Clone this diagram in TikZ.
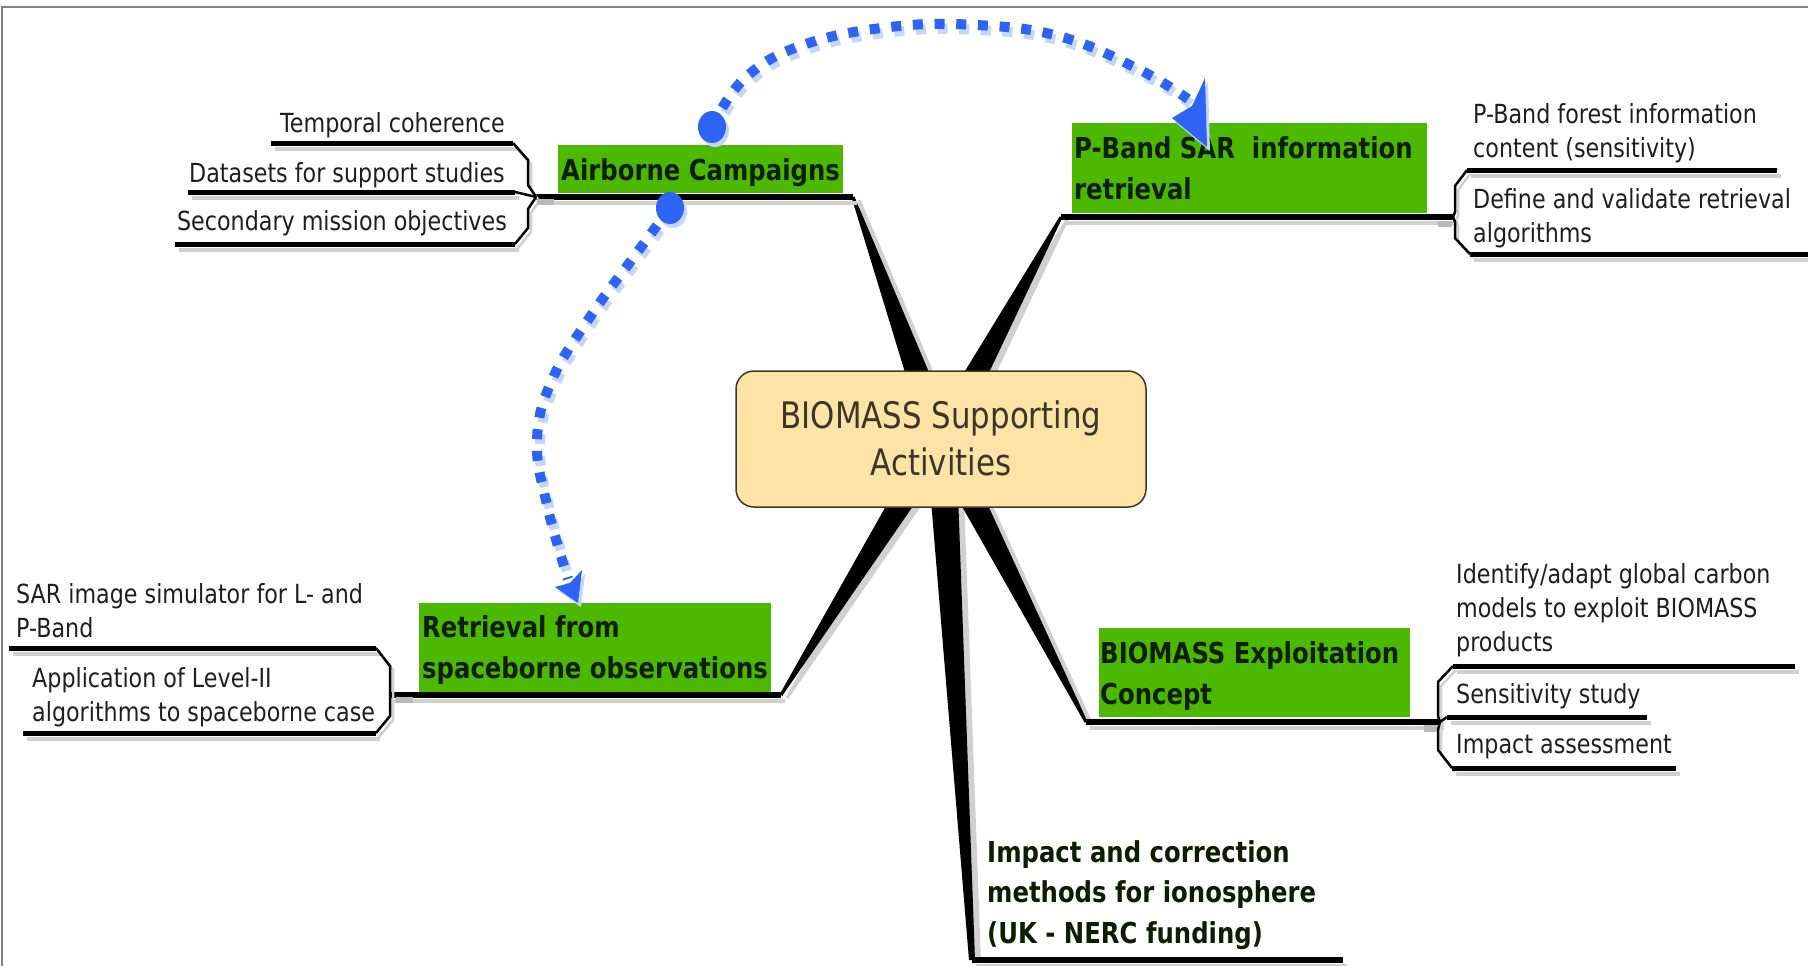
\documentclass[tikz,border=0pt]{standalone}
\usepackage{fontspec}
\setmainfont{DejaVu Sans}[FakeStretch=0.845]
\usetikzlibrary{calc}
\definecolor{gfill}{RGB}{77,184,0}
\definecolor{bluearr}{RGB}{45,100,245}
\definecolor{blueshadow}{RGB}{198,213,250}
\definecolor{cfill}{RGB}{253,227,165}
\definecolor{cdraw}{RGB}{60,55,40}
\definecolor{ctext}{RGB}{58,54,40}
\definecolor{shadowgray}{RGB}{208,208,208}
\definecolor{framegray}{RGB}{128,128,128}
\definecolor{leaftext}{RGB}{30,30,30}
\definecolor{topictext}{RGB}{12,30,0}
\newcommand\mlines[1]{\begin{tabular}[t]{@{}l@{}}#1\end{tabular}}
\newcommand\taper[5]{\fill[#1] ($(#2)!#4!90:(#3)$) -- ($(#3)!#5!-90:(#2)$) -- ($(#3)!#5!90:(#2)$) -- ($(#2)!#4!-90:(#3)$) -- cycle;}
\tikzset{
  leaf/.style={inner sep=0pt, font=\fontsize{26.3}{34}\selectfont, text=leaftext},
  topic/.style={inner sep=0pt, font=\fontsize{28.8}{41}\selectfont\bfseries, text=topictext},
  gbox/.style={fill=gfill, draw=none, inner sep=0pt, anchor=north west},
  uline/.style={line width=5pt, black},
  ushadow/.style={line width=4pt, shadowgray, transform canvas={xshift=4pt,yshift=-6pt}},
  bracket/.style={line width=2.5pt, black, line join=miter},
  bshadow/.style={line width=2.5pt, shadowgray, transform canvas={xshift=3pt,yshift=-4pt}},
  bluedash/.style={line width=10pt, bluearr, dash pattern=on 10pt off 11.7pt},
  blueshad/.style={line width=10pt, blueshadow, dash pattern=on 10pt off 11.7pt, transform canvas={xshift=3pt,yshift=-5pt}},
  tab/.style={fill=gray!55},
}
\begin{document}
\begin{tikzpicture}[x=1pt,y=-1pt]
\useasboundingbox (0,0) rectangle (1808,966);
\fill[white] (0,0) rectangle (1808,966);
\draw[framegray, line width=2pt] (1.5,966) -- (1.5,7) -- (1808,7);

% connection points
\coordinate (C) at (941,439);
\coordinate (EA) at (853,197);  \coordinate (LA) at (536,197);
\coordinate (EP) at (1061,217); \coordinate (RP) at (1453,217);
\coordinate (ER) at (781,695);  \coordinate (LR) at (390,695);
\coordinate (EX) at (1086,722); \coordinate (RX) at (1440,722);
\coordinate (EI) at (972,960);  \coordinate (RI) at (1343,960);

% main connector shadows
\begin{scope}[transform canvas={xshift=6pt,yshift=-3pt}]
\taper{shadowgray}{C}{EA}{15pt}{1.5pt}
\taper{shadowgray}{C}{EP}{15pt}{1.5pt}
\taper{shadowgray}{C}{ER}{15pt}{1.5pt}
\taper{shadowgray}{C}{EX}{15pt}{1.5pt}
\taper{shadowgray}{C}{EI}{15pt}{3pt}
\end{scope}
% main connectors
\taper{black}{C}{EA}{15pt}{1.5pt}
\taper{black}{C}{EP}{15pt}{1.5pt}
\taper{black}{C}{ER}{15pt}{1.5pt}
\taper{black}{C}{EX}{15pt}{1.5pt}
\taper{black}{C}{EI}{15pt}{3pt}

% main underlines
\draw[ushadow] (LA) -- (EA);
\draw[ushadow] (EP) -- (RP);
\draw[ushadow] (LR) -- (ER);
\draw[ushadow] (EX) -- (RX);
\draw[ushadow] (EI) -- (RI);
\draw[uline, line width=6pt] (LA) -- (EA);
\draw[uline, line width=6pt] (EP) -- (RP);
\draw[uline, line width=6pt] (LR) -- (ER);
\draw[uline, line width=6pt] (EX) -- (RX);
\draw[uline, line width=6pt] (EI) -- (RI);

% leaf underline end points
\coordinate (aT1) at (271,143); \coordinate (aT2) at (513,143);
\coordinate (aD1) at (188,192); \coordinate (aD2) at (515,192);
\coordinate (aS1) at (175,244); \coordinate (aS2) at (515,244);
\coordinate (pF1) at (1467,170); \coordinate (pF2) at (1777,170);
\coordinate (pD1) at (1470,254); \coordinate (pD2) at (1808,254);
\coordinate (rS1) at (9,648);   \coordinate (rS2) at (376,648);
\coordinate (rA1) at (23,733);  \coordinate (rA2) at (376,733);
\coordinate (xI1) at (1453,666); \coordinate (xI2) at (1795,666);
\coordinate (xS1) at (1447,717); \coordinate (xS2) at (1647,717);
\coordinate (xM1) at (1452,768); \coordinate (xM2) at (1676,768);

% leaf shadows
\foreach \a/\b in {aT1/aT2,aD1/aD2,aS1/aS2,pF1/pF2,pD1/pD2,rS1/rS2,rA1/rA2,xI1/xI2,xS1/xS2,xM1/xM2}
  \draw[ushadow] (\a) -- (\b);
\draw[bshadow] (aT2) -- (528,160) -- (528,185) -- (LA);
\draw[bshadow] (aS2) -- (528,228) -- (528,209) -- (LA);
\draw[bshadow] (pF1) -- (1455,186) -- (1455,212) -- (RP);
\draw[bshadow] (RP) -- (1455,222) -- (1455,238) -- (pD1);
\draw[bshadow] (rS2) -- (390,666) -- (390,690) -- (LR);
\draw[bshadow] (LR) -- (390,700) -- (390,716) -- (rA2);
\draw[bshadow] (xI1) -- (1438,682) -- (1438,716) -- (RX);
\draw[bshadow] (RX) -- (1438,730) -- (1438,750) -- (xM1);

% leaf underlines
\foreach \a/\b in {aT1/aT2,aD1/aD2,aS1/aS2,pF1/pF2,pD1/pD2,rS1/rS2,rA1/rA2,xI1/xI2,xS1/xS2,xM1/xM2}
  \draw[uline] (\a) -- (\b);
% brackets
\draw[bracket] (aT2) -- (528,160) -- (528,185) -- (LA);
\draw[bracket] (aD2) -- (LA);
\draw[bracket] (aS2) -- (528,228) -- (528,209) -- (LA);
\draw[bracket] (pF1) -- (1455,186) -- (1455,212) -- (RP);
\draw[bracket] (RP) -- (1455,222) -- (1455,238) -- (pD1);
\draw[bracket] (rS2) -- (390,666) -- (390,690) -- (LR);
\draw[bracket] (LR) -- (390,700) -- (390,716) -- (rA2);
\draw[bracket] (xI1) -- (1438,682) -- (1438,716) -- (RX);
\draw[bracket] (RX) -- (xS1);
\draw[bracket] (RX) -- (1438,730) -- (1438,750) -- (xM1);
% junction tabs
\fill[tab] (537,199) rectangle (554,205);
\fill[tab] (1438,221) rectangle (1452,227);
\fill[tab] (396,697) rectangle (413,703);
\fill[tab] (1424,725) rectangle (1437,732);

% green topic boxes
\node[gbox, minimum width=285pt, minimum height=48pt] (airbox) at (558,145) {};
\node[gbox, minimum width=355pt, minimum height=90pt] (pbox) at (1072,123) {};
\node[gbox, minimum width=352pt, minimum height=89pt] (rbox) at (419,603) {};
\node[gbox, minimum width=311pt, minimum height=89pt] (xbox) at (1099,628) {};

% topic labels
\node[topic, anchor=base west] (air) at (561,180) {Airborne Campaigns};
\node[topic, anchor=base west] (pband) at (1074,158) {\mlines{P-Band SAR~ information\\retrieval}};
\node[topic, anchor=base west] (retr) at (422,637) {\mlines{Retrieval from\\spaceborne observations}};
\node[topic, anchor=base west] (expl) at (1100,663) {\mlines{BIOMASS Exploitation\\Concept}};
\node[topic, anchor=base west, font=\fontsize{28.8}{40.5}\selectfont\bfseries] (iono) at (987,862) {\mlines{Impact and correction\\methods for ionosphere\\(UK - NERC funding)}};

% leaf labels
\node[leaf, anchor=base east] (temp) at (505,132) {Temporal coherence};
\node[leaf, anchor=base east] (data) at (505,182) {Datasets for support studies};
\node[leaf, anchor=base east] (seco) at (507,230) {Secondary mission objectives};
\node[leaf, anchor=base west] (pfor) at (1473,123) {\mlines{P-Band forest information\\content (sensitivity)}};
\node[leaf, anchor=base west] (pdef) at (1473,208) {\mlines{Define and validate retrieval\\algorithms}};
\node[leaf, anchor=base west] (rsar) at (16,603) {\mlines{SAR image simulator for L- and\\P-Band}};
\node[leaf, anchor=base west] (rapp) at (32,687) {\mlines{Application of Level-II\\algorithms to spaceborne case}};
\node[leaf, anchor=base west] (xide) at (1456,583) {\mlines{Identify/adapt global carbon\\models to exploit BIOMASS\\products}};
\node[leaf, anchor=base west] (xsen) at (1456,703) {Sensitivity study};
\node[leaf, anchor=base west] (ximp) at (1456,753) {Impact assessment};

% central topic
\node[draw=cdraw, fill=cfill, line width=1.5pt, rounded corners=18pt, minimum width=410pt, minimum height=136pt, inner sep=0pt] (center) at (941,439) {};
\node[inner sep=0pt, anchor=base, text=ctext, font=\fontsize{36.5}{47}\selectfont] (ctitle) at (941,428) {\begin{tabular}[t]{@{}c@{}}BIOMASS Supporting\\Activities\end{tabular}};

% blue relationship arrows
\coordinate (dotA) at (712,127);
\coordinate (dotB) at (670,208);
\coordinate (backA) at (1188,99);
\coordinate (backB) at (568,579);
\draw[blueshad] plot[smooth, tension=0.7] coordinates {(712,127) (745,78) (803,45) (890,27) (977,25) (1062,37) (1140,70) (1188,99)};
\draw[blueshad] plot[smooth, tension=0.7] coordinates {(670,208) (633,258) (590,317) (552,380) (537,440) (547,505) (568,579)};
\begin{scope}[transform canvas={xshift=3pt,yshift=-4pt}]
\fill[blueshadow] (dotA) ellipse [x radius=14, y radius=16];
\fill[blueshadow] (dotB) ellipse [x radius=14, y radius=16];
\fill[blueshadow] (1205,78) -- (1207,147) -- (1172,118) -- (1192,106) -- cycle;
\fill[blueshadow] (582,570) -- (578,603) -- (555,587) -- (570,583) -- cycle;
\end{scope}
\draw[bluedash] plot[smooth, tension=0.7] coordinates {(712,127) (745,78) (803,45) (890,27) (977,25) (1062,37) (1140,70) (1188,99)};
\draw[bluedash] plot[smooth, tension=0.7] coordinates {(670,208) (633,258) (590,317) (552,380) (537,440) (547,505) (568,579)};
\fill[bluearr] (dotA) ellipse [x radius=14, y radius=16];
\fill[bluearr] (dotB) ellipse [x radius=14, y radius=16];
\fill[bluearr] (1205,78) -- (1207,147) -- (1172,118) -- (1192,106) -- cycle;
\fill[bluearr] (582,570) -- (578,603) -- (555,587) -- (570,583) -- cycle;
\end{tikzpicture}
\end{document}
